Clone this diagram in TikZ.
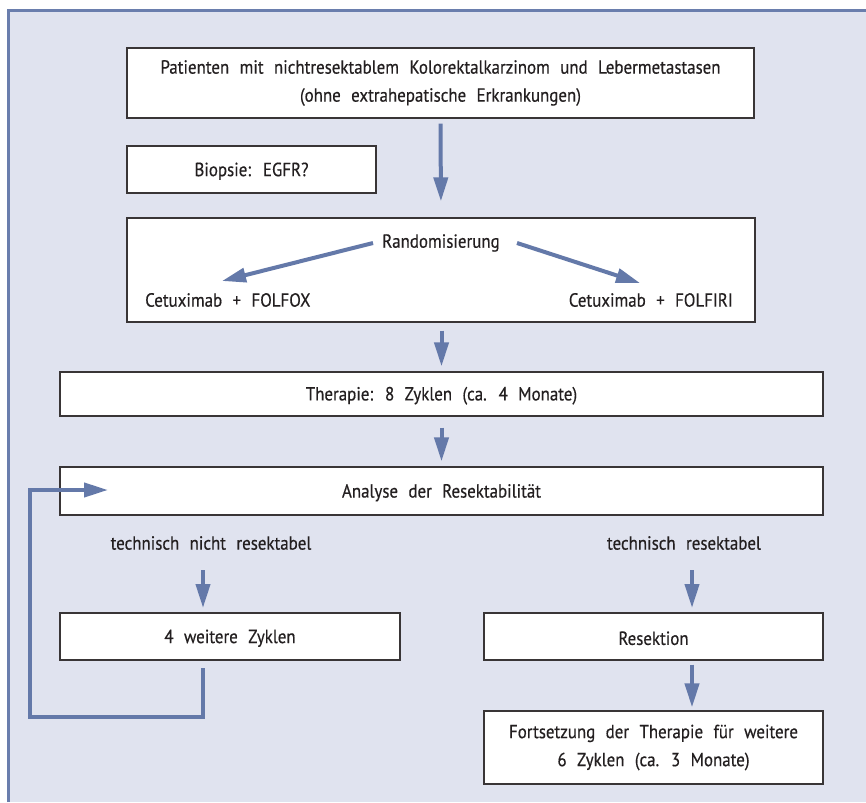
\documentclass[tikz,border=0pt]{standalone}
\usepackage{fontspec}
\setmainfont{PT Sans}[WordSpace={2.3,1,1},FakeStretch=0.89,FakeBold=0.4]
\usetikzlibrary{arrows.meta}
\definecolor{bgc}{HTML}{E0E3EF}
\definecolor{framec}{HTML}{6A7EAD}
\definecolor{arrc}{HTML}{6479A9}
\definecolor{txtc}{HTML}{231F20}
\tikzset{
  box/.style={draw=txtc!90, line width=1.2pt, fill=white, inner sep=0pt, align=center, text=txtc,
    execute at begin node={\rule{0pt}{#1}}},
  box/.default=17pt,
  lbl/.style={inner sep=0pt, text=txtc, align=center},
  arr/.style={draw=arrc, line width=4pt, -{Triangle[length=24pt,width=14pt]}},
}
\begin{document}
\begin{tikzpicture}[x=1pt,y=-1pt,font=\fontsize{19}{28}\selectfont]
\useasboundingbox (0,0) rectangle (866,802);
\fill[white] (0,0) rectangle (866,802);
\fill[bgc] (8,11) rectangle (866,802);
\draw[framec, line width=3pt] (8,802) -- (8,11) -- (866,11);

% boxes
\node[box=23pt, minimum width=627, minimum height=70] (top) at (440.5,83) {Patienten mit nichtresektablem Kolorektalkarzinom und Lebermetastasen\\(ohne extrahepatische Erkrankungen)};
\node[box, minimum width=249, minimum height=47] (bio) at (251.5,169.5) {Biopsie: EGFR?};
\node[box, minimum width=628, minimum height=104] (rand) at (441,270) {};
\node[box, minimum width=763, minimum height=44] (ther) at (441.5,394) {Therapie: 8 Zyklen (ca. 4 Monate)};
\node[box, minimum width=763, minimum height=48] (ana) at (441.5,491) {Analyse der Resektabilität};
\node[box, minimum width=340, minimum height=47] (w4) at (230,636.5) {4 weitere Zyklen};
\node[box, minimum width=339, minimum height=47] (res) at (653.5,636.5) {Resektion};
\node[box=18pt, minimum width=339, minimum height=73] (fort) at (653.5,747.5) {Fortsetzung der Therapie für weitere\\6 Zyklen (ca. 3 Monate)};

% texts inside randomisation box
\node[lbl] (rtxt) at (441,243) {Randomisierung};
\node[lbl, anchor=west] (fox) at (145,300) {Cetuximab + FOLFOX};
\node[lbl, anchor=east] (firi) at (733,300) {Cetuximab + FOLFIRI};

% labels
\node[lbl] (nres) at (211,543) {technisch nicht resektabel};
\node[lbl] (yres) at (684,543) {technisch resektabel};

% coordinates
\coordinate (ls) at (373,243);
\coordinate (lt) at (222,281);
\coordinate (rs) at (517,243);
\coordinate (rt) at (640,283);
\coordinate (n1) at (203,570);
\coordinate (n2) at (203,608);
\coordinate (y1) at (692,570);
\coordinate (y2) at (692,608);
\coordinate (l0) at (203,668);
\coordinate (l1) at (203,717);
\coordinate (l2) at (30,717);
\coordinate (l3) at (30,490);
\coordinate (l4) at (108,490);

% arrows
\draw[arr, shorten <=5pt, shorten >=16pt] (top.south) -- (rand.north);
\draw[arr] (ls) -- (lt);
\draw[arr] (rs) -- (rt);
\draw[arr, shorten <=8pt, shorten >=5pt] (rand.south -| ther.north) -- (ther.north);
\draw[arr, shorten <=11pt, shorten >=5pt] (ther.south) -- (ana.north);
\draw[arr] (n1) -- (n2);
\draw[arr] (y1) -- (y2);
\draw[arr, shorten <=4pt, shorten >=3pt] (res.south -| y1) -- (fort.north -| y1);
\draw[arr, miter limit=10] (l0) -- (l1) -- (l2) -- (l3) -- (l4);
\end{tikzpicture}
\end{document}
